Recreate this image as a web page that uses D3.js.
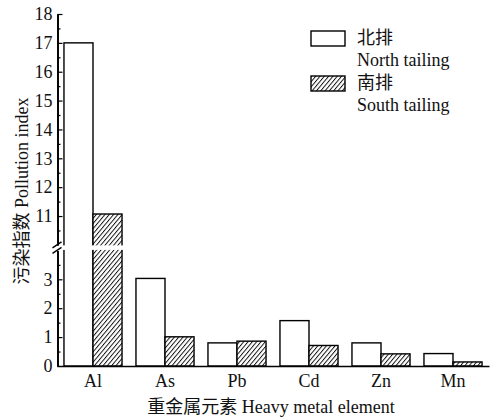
<!DOCTYPE html>
<html>
<head>
<meta charset="utf-8">
<script src="https://cdn.jsdelivr.net/npm/d3@7"></script>
<style>
  body { margin: 0; background: #fff; }
</style>
</head>
<body>
<div id="chart"></div>
<script>
// Data
const elements = ['Al', 'As', 'Pb', 'Cd', 'Zn', 'Mn'];
const northValues = [17.0, 3.03, 0.80, 1.57, 0.80, 0.43];
const southValues = [11.07, 1.01, 0.86, 0.71, 0.42, 0.14];
const series = ['north', 'south'];
const legendNames = [['北排', 'North tailing'], ['南排', 'South tailing']];
const lowTicks = [0, 1, 2, 3];
const highTicks = [11, 12, 13, 14, 15, 16, 17, 18];
const lowMinor = [0.5, 1.5, 2.5, 3.5];
const highMinor = [10.5, 11.5, 12.5, 13.5, 14.5, 15.5, 16.5, 17.5];

const WIDTH = 491;
const HEIGHT = 419;
const FONT_FAMILY = '"Liberation Serif", "Times New Roman", "Noto Sans CJK SC"';
const FONT = '18px';
const AXIS_X = 57.5;

const svg = d3.select('#chart')
  .append('svg')
  .attr('width', WIDTH)
  .attr('height', HEIGHT);

// hatch for south tailing
const defs = svg.append('defs');
defs.append('pattern')
  .attr('id', 'hatch')
  .attr('patternUnits', 'userSpaceOnUse')
  .attr('width', 3.3)
  .attr('height', 6)
  .attr('patternTransform', 'rotate(40)')
  .call(p => {
    p.append('rect').attr('width', 3.3).attr('height', 6).attr('fill', '#fff');
    p.append('line')
      .attr('x1', 0.5).attr('y1', 0).attr('x2', 0.5).attr('y2', 6)
      .attr('stroke', '#000').attr('stroke-width', 0.9);
  });

// scales: broken y axis, two segments
const xScale = d3.scaleBand()
  .domain(elements)
  .range([57, 489]);

const xSub = d3.scaleBand()
  .domain(series)
  .range([0, xScale.bandwidth()])
  .paddingOuter(0.24);

const yLow = d3.scaleLinear().domain([0, 4]).range([366, 250.4]);
const yHigh = d3.scaleLinear().domain([10, 18]).range([244.9, 14]);

function yOf (v) {
  return v > 4 ? yHigh(v) : yLow(v);
}

const rows = [];
elements.forEach((el, i) => {
  rows.push({ el: el, s: 'north', v: northValues[i] });
  rows.push({ el: el, s: 'south', v: southValues[i] });
});

// bars
svg.append('g')
  .selectAll('rect')
  .data(rows)
  .join('rect')
  .attr('x', d => xScale(d.el) + xSub(d.s))
  .attr('width', xSub.bandwidth())
  .attr('y', d => yOf(d.v))
  .attr('height', d => yLow(0) - yOf(d.v))
  .attr('fill', d => d.s === 'north' ? '#fff' : 'url(#hatch)')
  .attr('stroke', '#000')
  .attr('stroke-width', 1.4);

// white gap where the axis is broken
svg.append('rect')
  .attr('x', 59)
  .attr('width', xScale.range()[1] - 59)
  .attr('y', yHigh(10) + 0.5)
  .attr('height', yLow(4) - yHigh(10) - 1)
  .attr('fill', '#fff');

// axes
function styleText (sel) {
  sel.style('font-family', FONT_FAMILY)
    .style('font-size', FONT)
    .attr('fill', '#111');
}

function styleAxis (g) {
  g.select('.domain').attr('stroke', '#000').attr('stroke-width', 1.4);
  g.selectAll('.tick line').attr('stroke', '#000').attr('stroke-width', 1.2);
  g.selectAll('.tick text').call(styleText);
}

function addAxis (axis) {
  svg.append('g')
    .attr('transform', `translate(${AXIS_X},0)`)
    .call(axis)
    .call(styleAxis);
}

const fmt = d3.format('d');

// labels on the left, ticks pointing inward
addAxis(d3.axisLeft(yLow).tickValues(lowTicks).tickFormat(fmt).tickSize(0).tickSizeOuter(0).tickPadding(5));
addAxis(d3.axisLeft(yHigh).tickValues(highTicks).tickFormat(fmt).tickSize(0).tickSizeOuter(0).tickPadding(5));
addAxis(d3.axisRight(yLow).tickValues(lowTicks.slice(1)).tickSize(5).tickSizeOuter(0).tickFormat(''));
addAxis(d3.axisRight(yHigh).tickValues(highTicks).tickSize(5).tickSizeOuter(0).tickFormat(''));
addAxis(d3.axisRight(yLow).tickValues(lowMinor).tickSize(3).tickSizeOuter(0).tickFormat(''));
addAxis(d3.axisRight(yHigh).tickValues(highMinor).tickSize(3).tickSizeOuter(0).tickFormat(''));

svg.append('g')
  .attr('transform', `translate(0,${yLow(0)})`)
  .call(d3.axisBottom(xScale).tickSize(0).tickSizeOuter(0).tickPadding(8))
  .call(styleAxis);

// break marks on the y axis
svg.append('g')
  .selectAll('line')
  .data([yHigh(10), yLow(4)])
  .join('line')
  .attr('x1', AXIS_X - 5).attr('x2', AXIS_X + 4)
  .attr('y1', d => d + 3).attr('y2', d => d - 3)
  .attr('stroke', '#000')
  .attr('stroke-width', 1.3);

// axis titles
svg.append('text')
  .attr('x', 271)
  .attr('y', 413)
  .attr('text-anchor', 'middle')
  .text('重金属元素 Heavy metal element')
  .call(styleText);

svg.append('text')
  .attr('transform', 'translate(28,191) rotate(-90)')
  .attr('text-anchor', 'middle')
  .text('污染指数 Pollution index')
  .call(styleText);

// legend
const legend = svg.append('g')
  .selectAll('g')
  .data(series)
  .join('g')
  .attr('transform', (d, i) => `translate(311,${31 + i * 45})`);

legend.append('rect')
  .attr('width', 34)
  .attr('height', 15)
  .attr('fill', d => d === 'north' ? '#fff' : 'url(#hatch)')
  .attr('stroke', '#000')
  .attr('stroke-width', 1.4);

legend.append('text')
  .attr('x', 46)
  .attr('y', 13)
  .text((d, i) => legendNames[i][0])
  .call(styleText);

legend.append('text')
  .attr('x', 46)
  .attr('y', 35)
  .text((d, i) => legendNames[i][1])
  .call(styleText);
</script>
</body>
</html>
